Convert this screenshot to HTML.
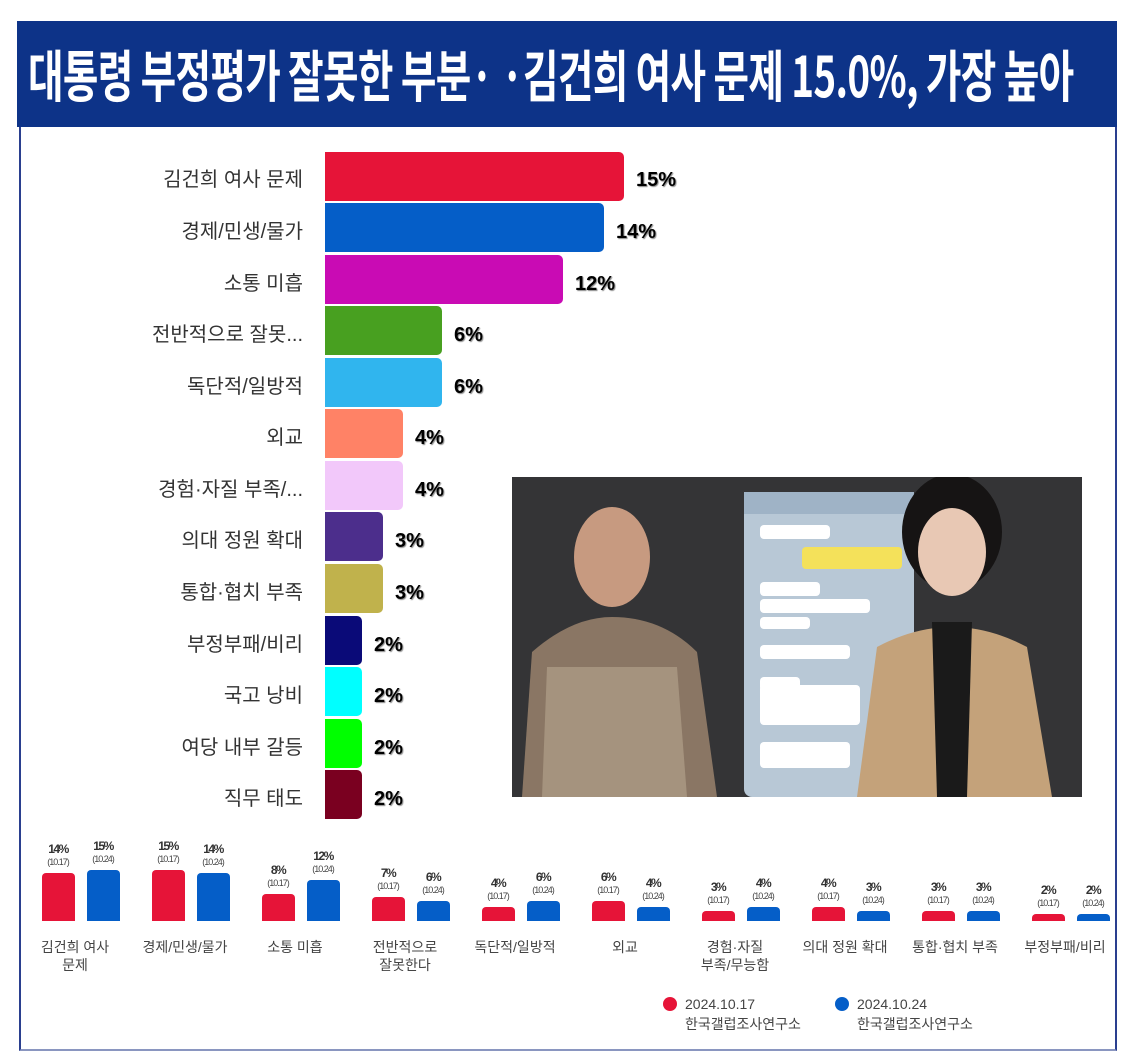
<!DOCTYPE html>
<html><head><meta charset="utf-8"><style>
body{margin:0;background:#fff;width:1135px;height:1060px;position:relative;overflow:hidden;font-family:"Liberation Sans","Noto Sans CJK KR",sans-serif}
.abs{position:absolute}
.lbl{position:absolute;right:832px;font-size:20px;color:#333;white-space:nowrap;line-height:24px}
.bar{position:absolute;left:325px;height:49px;border-radius:0 5px 5px 0}
.val{position:absolute;font-size:20px;font-weight:bold;color:#000;text-shadow:1px 1px 1px #888;line-height:24px}
.b{position:absolute;width:33px;border-radius:4px 4px 0 0}
.pv{position:absolute;font-size:12px;font-weight:bold;letter-spacing:-1.5px;color:#333;width:50px;text-align:center}
.pd{position:absolute;font-size:9px;letter-spacing:-1px;color:#444;width:50px;text-align:center}
.cl{position:absolute;font-size:14px;color:#444;width:110px;text-align:center;line-height:18px}
</style></head><body>
<div class="abs" style="left:19px;top:127px;width:1098px;height:924px;border:1px solid #2a3f8f;border-top:none;box-sizing:border-box;border-left:2px solid #2a3f8f;border-right:2px solid #2a3f8f;border-bottom:2px solid #8a96c0"></div>
<div class="abs" style="left:17px;top:21px;width:1100px;height:106px;background:#0d3388"></div>
<div class="abs" style="left:28px;top:40px;color:#fff;font-family:'Noto Sans CJK KR',sans-serif;font-weight:bold;font-size:56px;line-height:68px;white-space:nowrap;transform:scaleX(0.69);transform-origin:left top;letter-spacing:-1px">대통령 부정평가 잘못한 부분· ·김건희 여사 문제 15.0%, 가장 높아</div>

<div class="lbl" style="top:168px">김건희 여사 문제</div>
<div class="lbl" style="top:220px">경제/민생/물가</div>
<div class="lbl" style="top:272px">소통 미흡</div>
<div class="lbl" style="top:323px">전반적으로 잘못...</div>
<div class="lbl" style="top:375px">독단적/일방적</div>
<div class="lbl" style="top:426px">외교</div>
<div class="lbl" style="top:478px">경험·자질 부족/...</div>
<div class="lbl" style="top:529px">의대 정원 확대</div>
<div class="lbl" style="top:581px">통합·협치 부족</div>
<div class="lbl" style="top:633px">부정부패/비리</div>
<div class="lbl" style="top:684px">국고 낭비</div>
<div class="lbl" style="top:736px">여당 내부 갈등</div>
<div class="lbl" style="top:787px">직무 태도</div>

<div class="bar" style="top:152px;width:299px;background:#e61438"></div>
<div class="bar" style="top:203px;width:279px;background:#055ec8"></div>
<div class="bar" style="top:255px;width:238px;background:#c90bb4"></div>
<div class="bar" style="top:306px;width:117px;background:#48a020"></div>
<div class="bar" style="top:358px;width:117px;background:#30b5ee"></div>
<div class="bar" style="top:409px;width:78px;background:#ff8266"></div>
<div class="bar" style="top:461px;width:78px;background:#f2c8fa"></div>
<div class="bar" style="top:512px;width:58px;background:#4c2e8c"></div>
<div class="bar" style="top:564px;width:58px;background:#c0b24c"></div>
<div class="bar" style="top:616px;width:37px;background:#0a0a78"></div>
<div class="bar" style="top:667px;width:37px;background:#0ff"></div>
<div class="bar" style="top:719px;width:37px;background:#0f0"></div>
<div class="bar" style="top:770px;width:37px;background:#7a0020"></div>

<div class="val" style="left:636px;top:168px">15%</div>
<div class="val" style="left:616px;top:220px">14%</div>
<div class="val" style="left:575px;top:272px">12%</div>
<div class="val" style="left:454px;top:323px">6%</div>
<div class="val" style="left:454px;top:375px">6%</div>
<div class="val" style="left:415px;top:426px">4%</div>
<div class="val" style="left:415px;top:478px">4%</div>
<div class="val" style="left:395px;top:529px">3%</div>
<div class="val" style="left:395px;top:581px">3%</div>
<div class="val" style="left:374px;top:633px">2%</div>
<div class="val" style="left:374px;top:684px">2%</div>
<div class="val" style="left:374px;top:736px">2%</div>
<div class="val" style="left:374px;top:787px">2%</div>

<!-- photo -->
<svg class="abs" style="left:512px;top:477px" width="570" height="320">
<rect width="570" height="320" fill="#3b3b3d"/>
<rect x="0" y="0" width="570" height="320" fill="#2e2e30" opacity=".5"/>
<rect x="232" y="15" width="170" height="305" rx="8" fill="#b8c8d6"/>
<rect x="232" y="15" width="170" height="22" fill="#9fb3c6"/>
<rect x="290" y="70" width="100" height="22" rx="4" fill="#f4e15a"/>
<rect x="248" y="48" width="70" height="14" rx="4" fill="#fff"/>
<rect x="248" y="105" width="60" height="14" rx="4" fill="#fff"/>
<rect x="248" y="122" width="110" height="14" rx="4" fill="#fff"/>
<rect x="248" y="140" width="50" height="12" rx="4" fill="#fff"/>
<rect x="248" y="168" width="90" height="14" rx="4" fill="#fff"/>
<rect x="248" y="200" width="40" height="14" rx="4" fill="#fff"/>
<rect x="248" y="208" width="100" height="40" rx="4" fill="#fff"/>
<rect x="248" y="265" width="90" height="26" rx="4" fill="#fff"/>
<ellipse cx="100" cy="80" rx="38" ry="50" fill="#c79a80"/>
<path d="M10 320 L20 175 Q60 140 100 140 Q150 140 185 175 L205 320 Z" fill="#8a7664"/>
<path d="M30 320 L35 190 L165 190 L175 320 Z" fill="#b8a690" opacity=".6"/>
<ellipse cx="440" cy="55" rx="50" ry="58" fill="#161414"/>
<ellipse cx="440" cy="75" rx="34" ry="44" fill="#e8c8b4"/>
<path d="M345 320 L365 170 Q440 130 515 170 L540 320 Z" fill="#c4a27a"/>
<path d="M420 145 L460 145 L455 320 L425 320 Z" fill="#1a1a1a"/>
</svg>

<!-- bottom chart -->
<div id="bc"></div>
<script>
var d=[[14,15,"김건희 여사<br>문제"],[15,14,"경제/민생/물가"],[8,12,"소통 미흡"],[7,6,"전반적으로<br>잘못한다"],[4,6,"독단적/일방적"],[6,4,"외교"],[3,4,"경험·자질<br>부족/무능함"],[4,3,"의대 정원 확대"],[3,3,"통합·협치 부족"],[2,2,"부정부패/비리"]];
var h="",base=921,s=3.4;
d.forEach(function(g,i){
 var x0=42+i*110;
 [[g[0],"#e61438","(10.17)",0],[g[1],"#055ec8","(10.24)",45]].forEach(function(v){
  var x=x0+v[3],hh=v[0]*s,t=base-hh;
  h+='<div class="b" style="left:'+x+'px;top:'+t+'px;height:'+hh+'px;background:'+v[1]+'"></div>';
  h+='<div class="pd" style="left:'+(x-9)+'px;top:'+(t-16)+'px">'+v[2]+'</div>';
  h+='<div class="pv" style="left:'+(x-9)+'px;top:'+(t-31)+'px">'+v[0]+'%</div>';
 });
 h+='<div class="cl" style="left:'+(x0-22)+'px;top:938px">'+g[2]+'</div>';
});
document.getElementById("bc").innerHTML=h;
</script>
<div class="abs" style="left:663px;top:997px;width:14px;height:14px;border-radius:50%;background:#e61438"></div>
<div class="abs" style="left:685px;top:994px;font-size:14px;color:#444;line-height:20px">2024.10.17<br>한국갤럽조사연구소</div>
<div class="abs" style="left:835px;top:997px;width:14px;height:14px;border-radius:50%;background:#055ec8"></div>
<div class="abs" style="left:857px;top:994px;font-size:14px;color:#444;line-height:20px">2024.10.24<br>한국갤럽조사연구소</div>
</body></html>
